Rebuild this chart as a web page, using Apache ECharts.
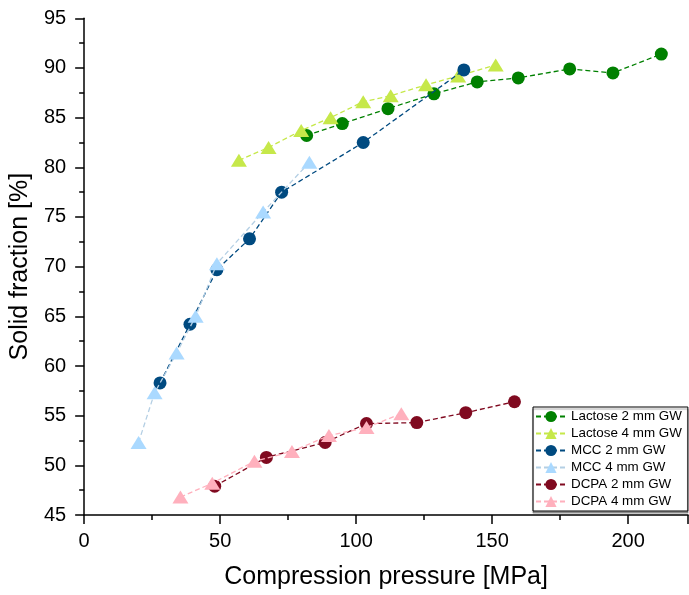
<!DOCTYPE html>
<html><head><meta charset="utf-8">
<script src="https://cdn.jsdelivr.net/npm/echarts@6/dist/echarts.min.js"></script>
<style>html,body{margin:0;padding:0;background:#fff}#c{width:689px;height:595px}</style>
</head><body><div id="c"></div>
<script>
const seriesNames = ['Lactose 2 mm GW','Lactose 4 mm GW','MCC 2 mm GW','MCC 4 mm GW','DCPA 2 mm GW','DCPA 4 mm GW'];
const lactose2 = [[81.8,83.2],[94.9,84.4],[111.7,85.9],[128.6,87.4],[144.5,88.6],[159.6,89.0],[178.5,89.9],[194.4,89.5],[212.2,91.4]];
const lactose4 = [[56.9,80.7],[67.8,82.0],[79.8,83.7],[90.6,85.0],[102.6,86.6],[112.7,87.2],[125.7,88.3],[137.5,89.2],[151.3,90.3]];
const mcc2 = [[27.9,58.3],[38.9,64.2],[48.8,69.7],[60.8,72.8],[72.6,77.5],[102.6,82.5],[139.6,89.8]];
const mcc4 = [[20.0,52.3],[25.9,57.3],[34.0,61.3],[41.0,65.0],[48.8,70.3],[65.8,75.5],[82.8,80.5]];
const dcpa2 = [[48.0,47.9],[67.0,50.8],[88.6,52.3],[103.8,54.2],[122.3,54.3],[140.3,55.3],[158.2,56.4]];
const dcpa4 = [[35.4,46.8],[47.1,48.2],[62.6,50.4],[76.4,51.4],[90.0,53.0],[103.8,53.8],[116.6,55.2]];
const xTicks = {min:0, max:222, interval:50};
const yTicks = {min:45, max:95, interval:5};

const FONT = 'Liberation Sans, Arial, sans-serif';
const data = [lactose2, lactose4, mcc2, mcc4, dcpa2, dcpa4];
const markerColors = ['#008000','#c6e84a','#004a80','#aad9ff','#800a20','#ffb0bd'];
const lineColors = ['#008000','#c6e84a','#004a80','#b4cfe4','#800a20','#ffb0bd'];
const symbols = ['circle','triangle','circle','triangle','circle','triangle'];
const sizes = [13,[16,13],13,[16,13],13,[16,13]];

const chart = echarts.init(document.getElementById('c'), null, {renderer:'canvas'});
const axisCommon = {
  axisLine:{show:true, lineStyle:{color:'#000', width:1.5}},
  axisTick:{show:true, inside:false, length:9, lineStyle:{color:'#000', width:1.5}},
  minorTick:{show:true, splitNumber:2, length:5, lineStyle:{color:'#000', width:1.5}},
  splitLine:{show:false},
  axisLabel:{color:'#000', fontSize:20, fontFamily:FONT},
  nameTextStyle:{color:'#000', fontSize:25, fontFamily:FONT},
  nameLocation:'middle'
};
chart.setOption({
  animation:false,
  backgroundColor:'#fff',
  grid:{left:80, top:18.3, width:608, height:497.5, containLabel:false},
  xAxis:Object.assign({}, axisCommon, {
    type:'value', min:xTicks.min, max:xTicks.max, interval:xTicks.interval,
    name:'Compression pressure [MPa]', nameGap:50,
    axisLabel:Object.assign({}, axisCommon.axisLabel, {margin:16, showMaxLabel:false})
  }),
  yAxis:Object.assign({}, axisCommon, {
    type:'value', min:yTicks.min, max:yTicks.max, interval:yTicks.interval,
    name:'Solid fraction [%]', nameGap:40,
    axisLabel:Object.assign({}, axisCommon.axisLabel, {margin:18})
  }),
  legend:{
    orient:'vertical', left:533, top:407,
    backgroundColor:'#fff', borderColor:'#000', borderWidth:1,
    shadowColor:'rgba(0,0,0,0.35)', shadowOffsetX:0, shadowOffsetY:2, shadowBlur:1,
    padding:[3,6,3,2], itemGap:4, itemWidth:30, itemHeight:14,
    textStyle:{color:'#000', fontSize:13.4, fontFamily:FONT},
    data:seriesNames
  },
  series:seriesNames.map((n,i)=>({
    name:n, type:'line', data:data[i],
    symbol:symbols[i], symbolSize:sizes[i], showSymbol:true,
    itemStyle:{color:markerColors[i]},
    lineStyle:{color:lineColors[i], width:1.3, type:[5,3]},
    z:2+i
  }))
});
</script></body></html>
